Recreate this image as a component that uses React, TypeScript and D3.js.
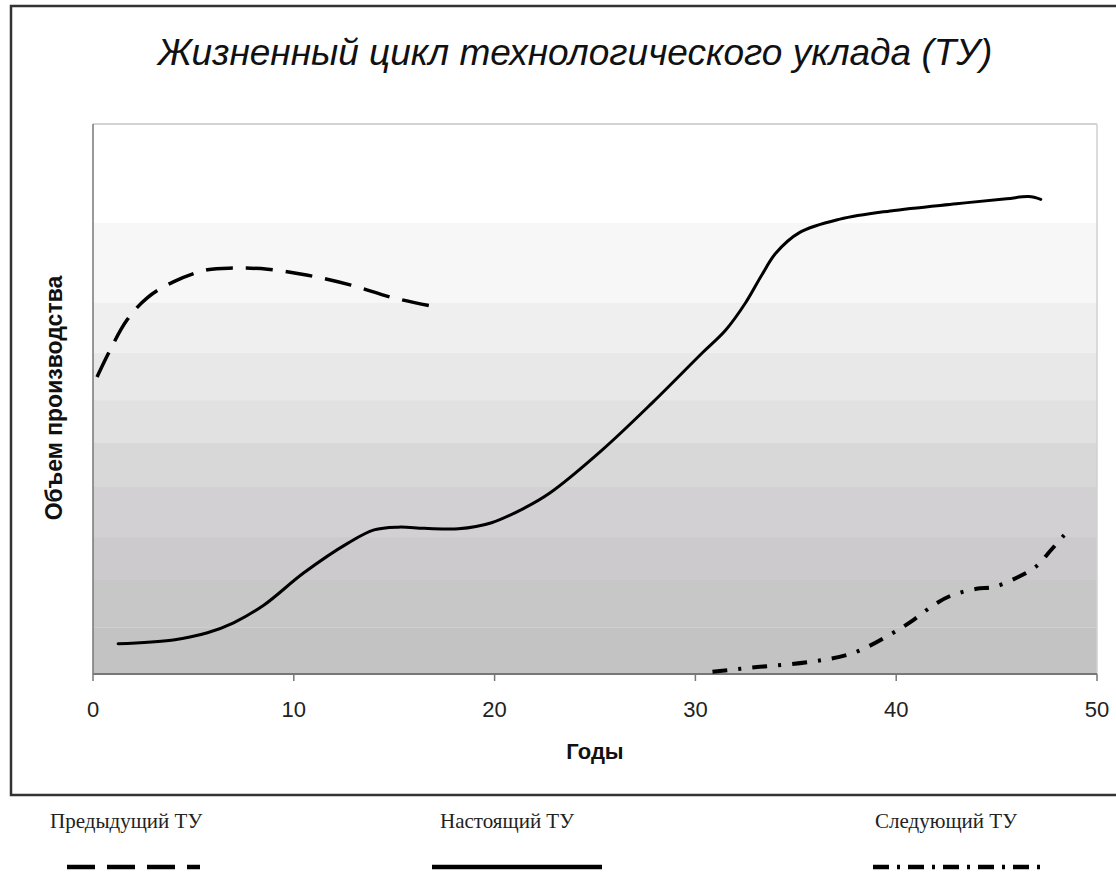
import * as d3 from "d3";
import React from "react";

// values (years, production volume in % of plot height)
const previousYears = [0.2, 0.85, 1.7, 2.7, 4.0, 5.7, 7.0, 8.7, 10.7, 12.85, 14.85, 16.85];
const previousVolume = [54.0, 58.9, 64.4, 68.4, 71.3, 73.5, 73.8, 73.6, 72.5, 70.7, 68.5, 66.9];

const currentYears = [1.25, 4.0, 5.7, 7.0, 8.5, 10.5, 12.7, 14.0, 15.2, 16.5, 18.2, 19.85, 21.5, 22.75, 25.35, 27.85, 30.35, 31.5, 32.5, 33.3, 34.0, 35.2, 37.2, 39.7, 43.0, 45.5, 46.6, 47.2];
const currentVolume = [5.5, 6.2, 7.5, 9.3, 12.5, 18.4, 23.8, 26.2, 26.7, 26.5, 26.4, 27.5, 30.2, 32.9, 40.7, 49.3, 58.4, 62.5, 67.5, 72.5, 76.5, 80.3, 82.7, 84.2, 85.5, 86.4, 86.8, 86.3];

const nextYears = [30.85, 33.2, 35.7, 37.85, 39.85, 40.85, 41.85, 42.7, 44.0, 44.85, 46.0, 46.95, 47.7, 48.45];
const nextVolume = [0.4, 1.3, 2.2, 3.8, 7.5, 9.8, 12.5, 14.2, 15.5, 15.8, 17.5, 19.5, 22.5, 25.6];

const xTicks = [0, 10, 20, 30, 40, 50];
const title = "Жизненный цикл технологического уклада (ТУ)";
const xTitle = "Годы";
const yTitle = "Объем производства";
const legendNames = ["Предыдущий ТУ", "Настоящий ТУ", "Следующий ТУ"];

// background bands (plot-height %) and shades
const bandEdges = [82, 67.5, 58.4, 49.8, 42, 34, 24.9, 17.1, 8.5, 0];
const bandColors = ["#f7f7f7", "#efefef", "#e8e8e8", "#e1e1e1", "#d9d8d9", "#d2d0d2", "#cccacc", "#c8c7c8", "#c3c3c3"];

const W = 1116;
const H = 873;
const plot = { left: 93, right: 1097, top: 124, bottom: 674 };

const App = () => {
  const x = d3.scaleLinear().domain([0, 50]).range([plot.left, plot.right]);
  const y = d3.scaleLinear().domain([0, 100]).range([plot.bottom, plot.top]);

  const line = d3
    .line<[number, number]>()
    .x((d) => x(d[0]))
    .y((d) => y(d[1]))
    .curve(d3.curveCatmullRom.alpha(0.5));

  const zip = (xs: number[], ys: number[]) => xs.map((v, i) => [v, ys[i]] as [number, number]);

  const dashPrev = "27 13";
  const dashNext = "15 11 3 11";

  const legendX = [67, 432, 873];
  const legendTextX = [50, 440, 875];

  return (
    <svg width={W} height={H} style={{ position: "absolute", left: 0, top: 0, background: "#fff" }}>
      {/* outer frame */}
      <rect x={11} y={6} width={1120} height={789} fill="#fff" stroke="#333" strokeWidth={2.5} />

      <text x={575} y={65} textAnchor="middle" fontFamily="Liberation Sans, Arial" fontStyle="italic" fontSize={37} fill="#111">
        {title}
      </text>

      {/* plot area */}
      <rect x={plot.left} y={plot.top} width={plot.right - plot.left} height={plot.bottom - plot.top} fill="#fff" />
      {bandColors.map((c, i) => (
        <rect
          key={i}
          x={plot.left}
          y={y(bandEdges[i])}
          width={plot.right - plot.left}
          height={y(bandEdges[i + 1]) - y(bandEdges[i])}
          fill={c}
        />
      ))}
      <line x1={plot.left} x2={plot.right} y1={plot.top} y2={plot.top} stroke="#c4c4c4" strokeWidth={1.5} />
      <line x1={plot.right} x2={plot.right} y1={plot.top} y2={plot.bottom} stroke="#d0d0d0" strokeWidth={1.5} />
      <line x1={plot.left} x2={plot.left} y1={plot.top} y2={plot.bottom} stroke="#777" strokeWidth={1.5} />
      <line x1={plot.left} x2={plot.right} y1={plot.bottom} y2={plot.bottom} stroke="#777" strokeWidth={2} />
      {xTicks.map((t) => (
        <g key={t}>
          <line x1={x(t)} x2={x(t)} y1={plot.bottom} y2={plot.bottom + 7} stroke="#777" strokeWidth={1.5} />
          <text x={x(t)} y={717} textAnchor="middle" fontFamily="Liberation Sans, Arial" fontSize={22} fill="#222">
            {t}
          </text>
        </g>
      ))}

      <text x={595} y={759} textAnchor="middle" fontFamily="Liberation Sans, Arial" fontWeight="bold" fontSize={22} fill="#111">
        {xTitle}
      </text>
      <text
        transform={`translate(62, ${398}) rotate(-90)`}
        textAnchor="middle"
        fontFamily="Liberation Sans, Arial"
        fontWeight="bold"
        fontSize={23}
        fill="#111"
      >
        {yTitle}
      </text>

      {/* series */}
      <path d={line(zip(previousYears, previousVolume)) || undefined} fill="none" stroke="#000" strokeWidth={3.5} strokeDasharray={dashPrev} />
      <path d={line(zip(currentYears, currentVolume)) || undefined} fill="none" stroke="#000" strokeWidth={3} strokeLinecap="round" />
      <path d={line(zip(nextYears, nextVolume)) || undefined} fill="none" stroke="#000" strokeWidth={4} strokeDasharray={dashNext} />

      {/* legend below the frame */}
      {legendNames.map((name, i) => (
        <g key={name}>
          <text x={legendTextX[i]} y={828} fontFamily="Liberation Serif, Times New Roman" fontSize={21} fill="#222">
            {name}
          </text>
          <line
            x1={legendX[i]}
            x2={legendX[i] + (i === 0 ? 133 : 170)}
            y1={867}
            y2={867}
            stroke="#000"
            strokeWidth={4.5}
            strokeDasharray={i === 0 ? "28 12" : i === 2 ? "16 8 3 8" : undefined}
          />
        </g>
      ))}
    </svg>
  );
};

export default App;
